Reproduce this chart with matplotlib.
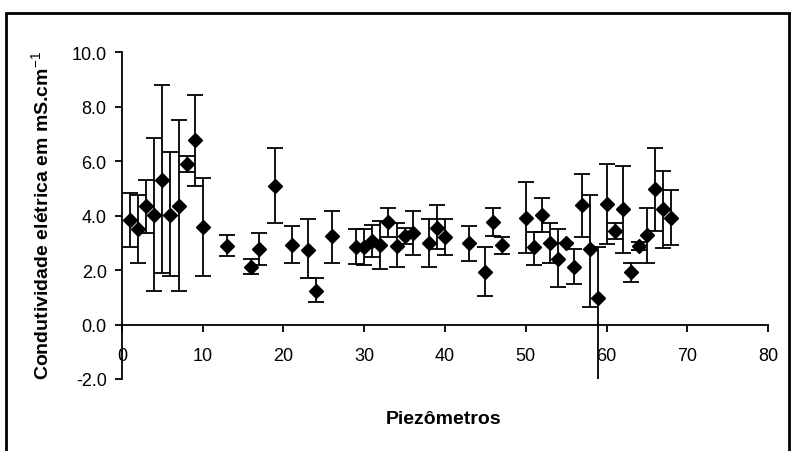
import numpy as np
import matplotlib
matplotlib.use("Agg")
import matplotlib.pyplot as plt
from matplotlib.patches import Rectangle

plt.rcParams['font.family'] = ['Liberation Sans', 'DejaVu Sans']
plt.rcParams['mathtext.fontset'] = 'custom'
plt.rcParams['mathtext.rm'] = 'Liberation Sans'
plt.rcParams['mathtext.bf'] = 'Liberation Sans:bold'

# piezometer number, mean conductivity, upper and lower limits of the bars
piezo = [1, 2, 3, 4, 5, 6, 7, 8, 9, 10, 13, 16, 17, 19, 21, 23, 24, 26,
         29, 30, 31, 32, 33, 34, 35, 36, 38, 39, 40, 43, 45, 46, 47,
         50, 51, 52, 53, 54, 55, 56, 57, 58, 59, 60, 61, 62, 63, 64, 65,
         66, 67, 68]
ce = [3.84, 3.50, 4.35, 4.01, 5.31, 4.01, 4.35, 5.88, 6.76, 3.56, 2.87,
      2.11, 2.78, 5.07, 2.92, 2.75, 1.24, 3.24,
      2.84, 2.84, 3.08, 2.92, 3.77, 2.87, 3.24, 3.35, 3.00, 3.54, 3.20,
      3.00, 1.91, 3.77, 2.92,
      3.92, 2.84, 4.01, 3.00, 2.39, 3.00, 2.11, 4.37, 2.78, 0.97, 4.44,
      3.42, 4.23, 1.91, 2.87, 3.29, 4.98, 4.23, 3.92]
ce_max = [4.81, 4.75, 5.31, 6.86, 8.78, 6.34, 7.49, 6.18, 8.42, 5.37, 3.29,
          2.42, 3.35, 6.49, 3.62, 3.86, 1.69, 4.17,
          3.50, 3.50, 3.65, 3.80, 4.29, 3.72, 3.53, 4.15, 3.86, 4.37, 3.86,
          3.62, 2.84, 4.29, 3.20,
          5.23, 3.41, 4.65, 3.71, 3.50, 3.00, 2.78, 5.53, 4.75, 2.86, 5.88,
          3.72, 5.83, 2.27, 3.04, 4.29, 6.49, 5.65, 4.95]
ce_min = [2.84, 2.26, 3.35, 1.24, 1.90, 1.78, 1.24, 5.58, 5.10, 1.78, 2.50,
          1.84, 2.20, 3.71, 2.26, 1.69, 0.82, 2.26,
          2.23, 2.17, 2.48, 2.03, 3.20, 2.11, 2.96, 2.54, 2.11, 2.78, 2.54,
          2.33, 1.03, 3.24, 2.60,
          2.62, 2.17, 3.38, 2.27, 1.39, 3.00, 1.47, 3.22, 0.66, -2.30, 2.96,
          3.12, 2.62, 1.55, 2.72, 2.26, 3.44, 2.80, 2.92]

x = np.array(piezo)
y = np.array(ce)
err = [y - np.array(ce_min), np.array(ce_max) - y]

fig = plt.figure(figsize=(7.91, 4.52), dpi=100)
ax = fig.add_axes([0.1542, 0.1593, 0.8168, 0.7234])

ax.errorbar(x, y, yerr=err, fmt='D', color='black', ms=7,
            ecolor='black', elinewidth=1.3, capsize=6, capthick=1.3)

ax.set_xlim(0, 80)
ax.set_ylim(-2, 10)
ax.set_xticks(np.arange(0, 81, 10))
ax.set_yticks(np.arange(-2, 10.1, 2))
ax.set_yticklabels(['%.1f' % v for v in np.arange(-2, 10.1, 2)])

ax.spines['top'].set_visible(False)
ax.spines['right'].set_visible(False)
ax.spines['bottom'].set_position(('data', 0))
ax.spines['left'].set_linewidth(1.3)
ax.spines['bottom'].set_linewidth(1.3)
ax.tick_params(axis='y', direction='out', length=5, width=1.3, pad=6,
               labelsize=13)
ax.tick_params(axis='x', direction='out', length=5, width=1.3, pad=11,
               labelsize=13)

fig.text(0.053, 0.524, 'Condutividade elétrica em mS.cm$^{-1}$',
         rotation=90, ha='center', va='center', fontsize=14,
         fontweight='bold')
fig.text(0.561, 0.073, 'Piezômetros', ha='center', va='center',
         fontsize=14, fontweight='bold')

# frame around the whole chart
fig.add_artist(Rectangle((6 / 791, -0.01), 783 / 791, 1 - 14 / 452 + 0.01,
                         transform=fig.transFigure, fill=False,
                         edgecolor='black', linewidth=2, clip_on=False))

fig.savefig('out.png', dpi=100)
